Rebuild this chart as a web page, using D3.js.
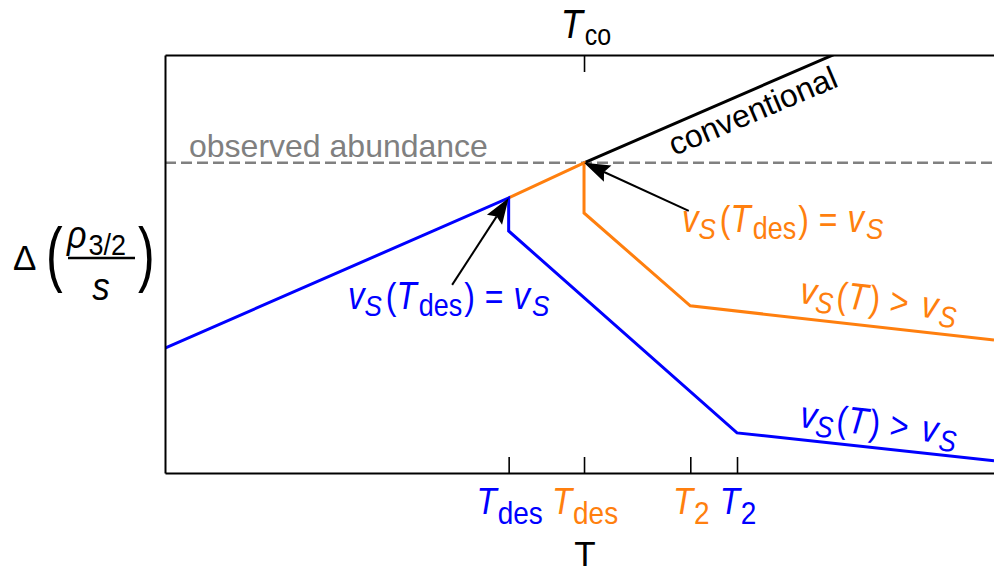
<!DOCTYPE html>
<html>
<head>
<meta charset="utf-8">
<script src="https://cdn.jsdelivr.net/npm/d3@7"></script>
<style>
body { margin: 0; background: #fff; }
svg { display: block; }
text { font-family: "Liberation Sans", Arial, Helvetica, sans-serif; }
</style>
</head>
<body>
<svg id="chart" width="994" height="573"></svg>
<script>
// temperatures (arbitrary units) of the marked points
var tDesBlue = 4.56, tDesOrange = 5.56, tCo = 5.56, t2Orange = 6.97, t2Blue = 7.59;

// piecewise curves: Delta(rho/s) against T
var blueX = [0, tDesBlue, tDesBlue, t2Blue, 11];
var blueY = [0.299, 0.658, 0.579, 0.096, 0.029];
var orangeX = [tDesBlue, tDesOrange, tDesOrange, t2Orange, 11];
var orangeY = [0.658, 0.742, 0.622, 0.400, 0.318];
var convX = [tCo, 11];
var convY = [0.742, 1.167];
var observed = 0.742;

// bottom ticks and which curve each belongs to
var bottomTicks = [tDesBlue, tDesOrange, t2Orange, t2Blue];
var bottomSubs = ['des', 'des', '2', '2'];
var bottomSeries = ['blue', 'orange', 'orange', 'blue'];
var topTicks = [tCo];

var color = { blue: '#0000ff', orange: '#ff7f0e', conv: '#000000', obs: '#808080' };

var svg = d3.select('#chart');
var x = d3.scaleLinear().domain([0, 11]).range([165, 994]);
var y = d3.scaleLinear().domain([0, 1]).range([473, 55]);

svg.append('clipPath').attr('id', 'plotClip')
    .append('rect')
    .attr('x', x(0)).attr('y', y(1))
    .attr('width', x(11) - x(0)).attr('height', y(0) - y(1));

// mathtext-like label: parts are {s, it, sub, size, dx}
function mathText(parent, parts, o) {
    var tr = 'translate(' + o.x + ',' + o.y + ')';
    if (o.rot) tr += ' rotate(' + o.rot + ')';
    tr += ' scale(1,' + (o.sy || 1) + ')';
    var t = parent.append('text')
        .attr('transform', tr)
        .attr('text-anchor', o.anchor || 'start')
        .style('fill', o.color);
    var shift = 0;
    parts.forEach(function (p) {
        var target = p.sub ? o.subDy : 0;
        t.append('tspan')
            .attr('dy', target - shift)
            .attr('dx', p.dx || 0)
            .style('font-size', p.size + 'px')
            .style('font-style', p.it ? 'italic' : 'normal')
            .text(p.s);
        shift = target;
    });
    return t;
}

var line = d3.line()
    .x(function (d) { return x(d[0]); })
    .y(function (d) { return y(d[1]); });

var plot = svg.append('g').attr('clip-path', 'url(#plotClip)');

// observed abundance
plot.append('line')
    .attr('x1', x(0)).attr('x2', x(11))
    .attr('y1', y(observed)).attr('y2', y(observed))
    .style('stroke', color.obs)
    .style('stroke-width', 2.5)
    .style('stroke-dasharray', '11,5');

plot.append('path')
    .datum(d3.zip(convX, convY))
    .attr('d', line)
    .style('fill', 'none')
    .style('stroke', color.conv)
    .style('stroke-width', 3);
plot.append('path')
    .datum(d3.zip(orangeX, orangeY))
    .attr('d', line)
    .style('fill', 'none')
    .style('stroke', color.orange)
    .style('stroke-width', 3);
plot.append('path')
    .datum(d3.zip(blueX, blueY))
    .attr('d', line)
    .style('fill', 'none')
    .style('stroke', color.blue)
    .style('stroke-width', 3);

// axes
svg.append('g').attr('transform', 'translate(0,' + y(0) + ')')
    .call(d3.axisBottom(x).tickValues(bottomTicks).tickSize(-16).tickSizeOuter(0).tickFormat(''));
svg.append('g').attr('transform', 'translate(0,' + y(1) + ')')
    .call(d3.axisTop(x).tickValues(topTicks).tickSize(-17).tickSizeOuter(0).tickFormat(''));
svg.append('g').attr('transform', 'translate(' + x(0) + ',0)')
    .call(d3.axisLeft(y).tickValues([]).tickSizeOuter(0));
svg.selectAll('.domain').style('stroke', '#000').style('stroke-width', 2);
svg.selectAll('.tick line').style('stroke', '#000').style('stroke-width', 1.6);

// tick labels
bottomTicks.forEach(function (v, i) {
    mathText(svg, [
        { s: 'T', it: true, size: 33 },
        { s: bottomSubs[i], sub: true, size: 28, dx: 1 }
    ], { x: x(v) + 1, y: 514, sy: 1.12, subDy: 9, anchor: 'middle', color: color[bottomSeries[i]] });
});
mathText(svg, [
    { s: 'T', it: true, size: 36 },
    { s: 'co', sub: true, size: 25, dx: 2 }
], { x: x(tCo) + 2, y: 38, sy: 1.15, subDy: 6.5, anchor: 'middle', color: '#000' });

// axis label
svg.append('text')
    .attr('x', x(tCo) + 1).attr('y', 566)
    .attr('text-anchor', 'middle')
    .style('font-size', '35px')
    .text('T');

// y label: Delta( rho_3/2 / s )
svg.append('text').attr('x', 13).attr('y', 270).style('font-size', '35px').text('\u0394');
svg.append('text').attr('transform', 'translate(46,278) scale(1,1.45)').style('font-size', '50px').text('(');
svg.append('text').attr('transform', 'translate(138,278) scale(1,1.45)').style('font-size', '50px').text(')');
mathText(svg, [
    { s: '\u03c1', it: true, size: 34 },
    { s: '3/2', sub: true, size: 27, dx: 2 }
], { x: 67, y: 248, sy: 1.12, subDy: 6, color: '#000' });
svg.append('line')
    .attr('x1', 68).attr('x2', 135).attr('y1', 258).attr('y2', 258)
    .style('stroke', '#000').style('stroke-width', 2.5);
mathText(svg, [{ s: 's', it: true, size: 35 }],
    { x: 101, y: 300, sy: 1.12, anchor: 'middle', color: '#000' });

// text labels
svg.append('text')
    .attr('x', 189).attr('y', 157)
    .style('font-size', '32px')
    .style('fill', color.obs)
    .text('observed abundance');
svg.append('text')
    .attr('transform', 'translate(757,121) rotate(-23)')
    .attr('text-anchor', 'middle')
    .style('font-size', '32px')
    .text('conventional');

function eqParts() {
    return [
        { s: 'v', it: true, size: 33 },
        { s: 'S', it: true, sub: true, size: 26 },
        { s: '(', size: 32, dx: 4 },
        { s: 'T', it: true, size: 33 },
        { s: 'des', sub: true, size: 27, dx: 2 },
        { s: ')', size: 32, dx: 2 },
        { s: '=', size: 32, dx: 10 },
        { s: 'v', it: true, size: 33, dx: 10 },
        { s: 'S', it: true, sub: true, size: 26, dx: 2 }
    ];
}
function gtParts() {
    return [
        { s: 'v', it: true, size: 33 },
        { s: 'S', it: true, sub: true, size: 26 },
        { s: '(', size: 32, dx: 3 },
        { s: 'T', it: true, size: 33 },
        { s: ')', size: 32, dx: 2 },
        { s: '>', size: 32, dx: 10 },
        { s: 'v', it: true, size: 33, dx: 13 },
        { s: 'S', it: true, sub: true, size: 26, dx: 2 }
    ];
}
mathText(svg, eqParts(), { x: 348, y: 309, sy: 1.15, subDy: 6.5, color: color.blue });
mathText(svg, eqParts(), { x: 682, y: 232, sy: 1.15, subDy: 6.5, color: color.orange });
mathText(svg, gtParts(), { x: 799, y: 303, rot: 6.5, sy: 1.15, subDy: 6.5, color: color.orange });
mathText(svg, gtParts(), { x: 799, y: 427, rot: 6.5, sy: 1.15, subDy: 6.5, color: color.blue });

// arrows pointing at the desorption points
var arrows = [
    { tail: [3.81, 0.450], tip: [tDesBlue, 0.658] },
    { tail: [6.95, 0.627], tip: [tCo, 0.742] }
];
arrows.forEach(function (a) {
    var x0 = x(a.tail[0]), y0 = y(a.tail[1]);
    var x1 = x(a.tip[0]), y1 = y(a.tip[1]);
    var ang = Math.atan2(y1 - y0, x1 - x0);
    var L = 26, W = 9;
    var ux = Math.cos(ang), uy = Math.sin(ang);
    var bx = x1 - ux * L, by = y1 - uy * L;
    svg.append('line')
        .attr('x1', x0).attr('y1', y0)
        .attr('x2', bx + ux * 4).attr('y2', by + uy * 4)
        .style('stroke', '#000').style('stroke-width', 2);
    svg.append('path')
        .attr('d', 'M' + x1 + ',' + y1 +
            'L' + (bx - uy * W) + ',' + (by + ux * W) +
            'L' + (bx + ux * 4) + ',' + (by + uy * 4) +
            'L' + (bx + uy * W) + ',' + (by - ux * W) + 'Z')
        .style('fill', '#000');
});
</script>
</body>
</html>
